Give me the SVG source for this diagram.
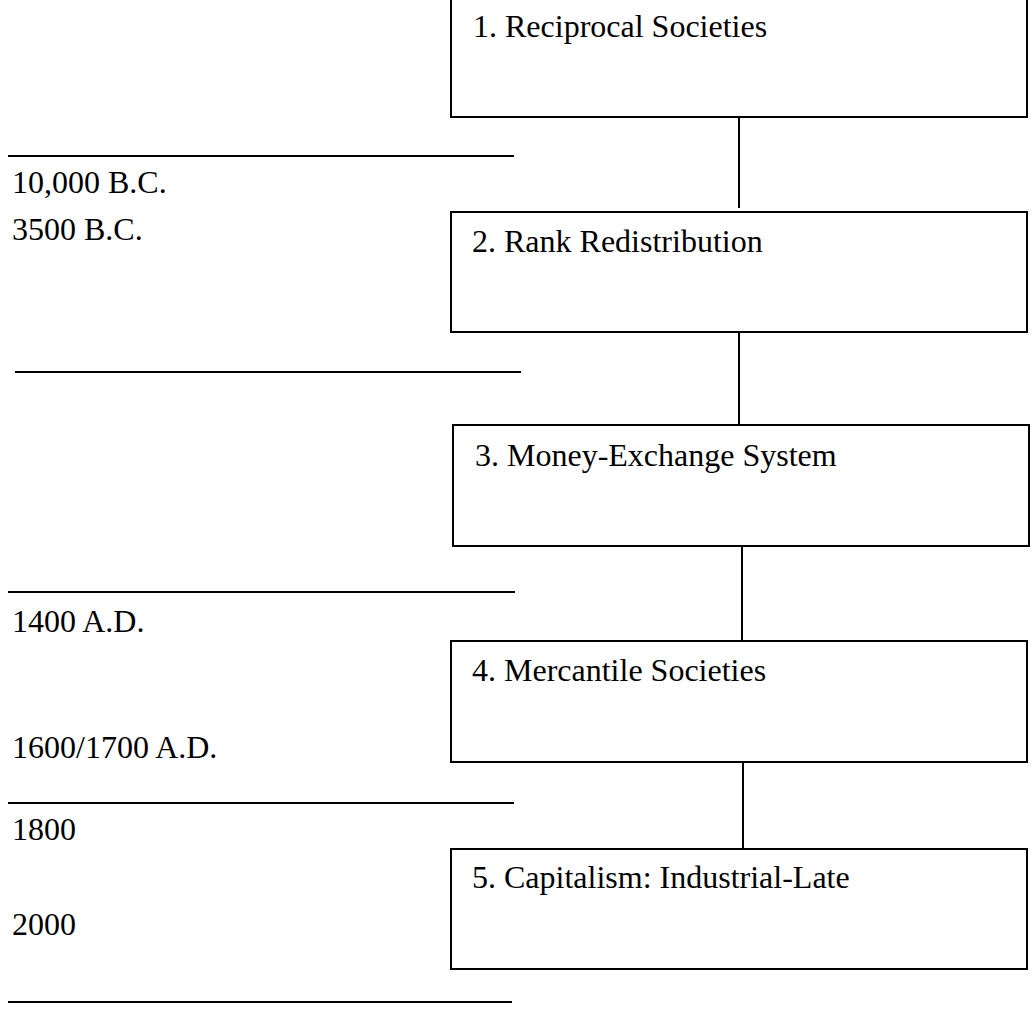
<svg xmlns="http://www.w3.org/2000/svg" width="1035" height="1009" viewBox="0 0 1035 1009">
<style>
.box{fill:#fff;stroke:#000;stroke-width:2}
.ln{stroke:#000;stroke-width:2;fill:none}
text{font-family:"Liberation Serif","Times New Roman",serif;font-size:32px;fill:#000}
</style>
<rect width="1035" height="1009" fill="#fff"/>
<g id="timeline">
<line class="ln" x1="8" y1="156" x2="514" y2="156"/>
<text x="12" y="193">10,000 B.C.</text>
<text x="12" y="240">3500 B.C.</text>
<line class="ln" x1="15" y1="372" x2="521" y2="372"/>
<line class="ln" x1="8" y1="592" x2="515" y2="592"/>
<text x="12" y="632">1400 A.D.</text>
<text x="12" y="758">1600/1700 A.D.</text>
<line class="ln" x1="8" y1="803" x2="514" y2="803"/>
<text x="12" y="840">1800</text>
<text x="12" y="935">2000</text>
<line class="ln" x1="8" y1="1002" x2="512" y2="1002"/>
</g>
<g id="connectors">
<line class="ln" x1="739" y1="117" x2="739" y2="208"/>
<line class="ln" x1="739" y1="332" x2="739" y2="425"/>
<line class="ln" x1="742" y1="546" x2="742" y2="641"/>
<line class="ln" x1="743" y1="755" x2="743" y2="852"/>
</g>
<g id="node1"><rect class="box" x="451" y="-3" width="576" height="120"/><text x="473" y="37">1. Reciprocal Societies</text></g>
<g id="node2"><rect class="box" x="451" y="212" width="576" height="120"/><text x="472" y="252">2. Rank Redistribution</text></g>
<g id="node3"><rect class="box" x="453" y="425" width="576" height="121"/><text x="475" y="466">3. Money-Exchange System</text></g>
<g id="node4"><rect class="box" x="451" y="641" width="576" height="121"/><text x="472" y="681">4. Mercantile Societies</text></g>
<g id="node5"><rect class="box" x="451" y="849" width="576" height="120"/><text x="472" y="888">5. Capitalism: Industrial-Late</text></g>
</svg>
